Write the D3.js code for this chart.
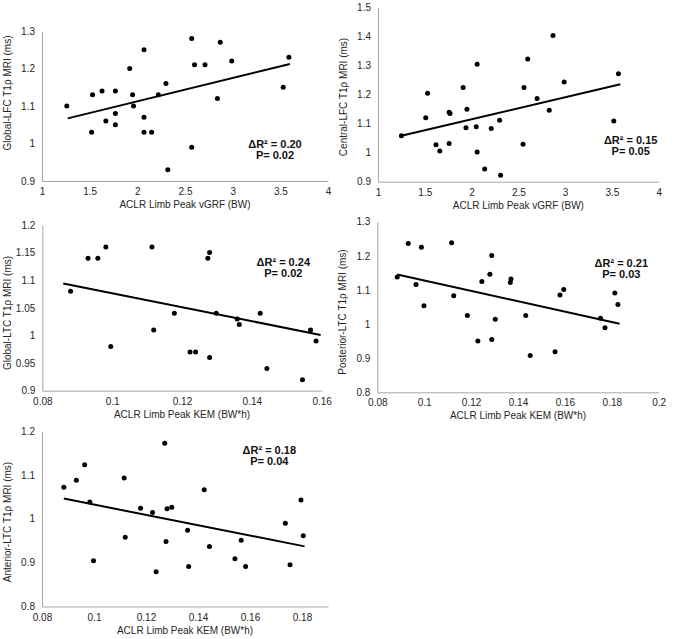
<!DOCTYPE html>
<html>
<head>
<meta charset="utf-8">
<script src="https://cdn.jsdelivr.net/npm/d3@7"></script>
<style>
  html, body { margin: 0; padding: 0; background: #fff; }
  svg { display: block; font-family: "Liberation Sans", Arial, sans-serif; }
</style>
</head>
<body>
<svg id="chart" width="675" height="639"></svg>
<script>
// ---------------- DATA ----------------
// Panel 1: Global-LFC vs vGRF
const p1X = [1.26,1.52,1.53,1.63,1.67,1.77,1.77,1.77,1.92,1.95,1.96,2.07,2.07,2.07,2.15,2.22,2.30,2.32,2.57,2.57,2.60,2.71,2.84,2.87,2.99,3.53,3.59];
const p1Y = [1.10,1.03,1.13,1.14,1.06,1.14,1.08,1.05,1.20,1.13,1.10,1.25,1.07,1.03,1.03,1.13,1.16,0.93,1.28,0.99,1.21,1.21,1.12,1.27,1.22,1.15,1.23];
const p1Fit = [[1.27,1.067],[3.60,1.212]];

// Panel 2: Central-LFC vs vGRF
const p2X = [1.25,1.51,1.53,1.62,1.66,1.76,1.77,1.76,1.91,1.94,1.95,2.05,2.06,2.06,2.14,2.21,2.30,2.31,2.55,2.56,2.60,2.70,2.83,2.87,2.99,3.52,3.57];
const p2Y = [1.058,1.120,1.204,1.027,1.006,1.139,1.135,1.031,1.224,1.086,1.149,1.089,1.304,1.002,0.944,1.083,1.111,0.922,1.029,1.224,1.322,1.186,1.146,1.403,1.243,1.109,1.271];
const p2Fit = [[1.25,1.058],[3.59,1.235]];

// Panel 3: Global-LTC vs KEM
const p3X = [0.0881,0.0931,0.0959,0.0982,0.0996,0.1114,0.1119,0.1178,0.1223,0.1239,0.1274,0.1279,0.1279,0.1298,0.1358,0.1364,0.1424,0.1443,0.1545,0.1568,0.1584];
const p3Y = [1.08,1.14,1.14,1.16,0.98,1.16,1.01,1.04,0.97,0.97,1.14,1.15,0.96,1.04,1.03,1.02,1.04,0.94,0.92,1.01,0.99];
const p3Fit = [[0.0860,1.094],[0.1597,1.001]];

// Panel 4: Posterior-LTC vs KEM
const p4X = [0.0885,0.0932,0.0965,0.0988,0.0999,0.1117,0.1126,0.1184,0.1229,0.1246,0.1280,0.1288,0.1288,0.1303,0.1367,0.1370,0.1433,0.1452,0.1558,0.1579,0.1595,0.1752,0.1771,0.1813,0.1826];
const p4Y = [1.138,1.236,1.116,1.225,1.054,1.238,1.083,1.025,0.950,1.125,1.146,1.201,0.955,1.014,1.122,1.132,1.025,0.908,0.919,1.085,1.101,1.017,0.989,1.091,1.057];
const p4Fit = [[0.0885,1.145],[0.1833,1.001]];

// Panel 5: Anterior-LTC vs KEM
const p5X = [0.0884,0.0932,0.0964,0.0984,0.0998,0.1116,0.1120,0.1179,0.1225,0.1239,0.1272,0.1281,0.1277,0.1299,0.1360,0.1364,0.1424,0.1444,0.1542,0.1566,0.1583,0.1736,0.1754,0.1796,0.1805];
const p5Y = [1.072,1.088,1.123,1.038,0.904,1.093,0.958,1.024,1.014,0.879,1.172,1.023,0.948,1.026,0.974,0.891,1.066,0.937,0.909,0.951,0.891,0.990,0.895,1.043,0.961];
const p5Fit = [[0.0884,1.046],[0.1810,0.937]];

// Tick labels
const vgrfTicks = [1,1.5,2,2.5,3,3.5,4];
const kemTicks160 = [0.08,0.1,0.12,0.14,0.16];
const kemTicks180 = [0.08,0.1,0.12,0.14,0.16,0.18];
const kemTicks200 = [0.08,0.1,0.12,0.14,0.16,0.18,0.2];
const yTicks1 = [0.9,1,1.1,1.2,1.3];
const yTicks2 = [0.9,1,1.1,1.2,1.3,1.4,1.5];
const yTicks3 = [0.9,0.95,1,1.05,1.1,1.15,1.2];
const yTicks4 = [0.8,0.9,1,1.1,1.2,1.3];
const yTicks5 = [0.8,0.9,1,1.1,1.2];

// Titles and annotations
const xTitles = ["ACLR Limb Peak vGRF (BW)","ACLR Limb Peak vGRF (BW)","ACLR Limb Peak KEM (BW*h)","ACLR Limb Peak KEM (BW*h)","ACLR Limb Peak KEM (BW*h)"];
const yTitles = ["Global-LFC T1ρ MRI (ms)","Central-LFC T1ρ MRI (ms)","Global-LTC T1ρ MRI (ms)","Posterior-LTC T1ρ MRI (ms)","Anterior-LTC T1ρ MRI (ms)"];
const dR2 = ["0.20","0.15","0.24","0.21","0.18"];
const pVals = ["0.02","0.05","0.02","0.03","0.04"];

// ---------------- LAYOUT ----------------
const layout = [
  {x0:42,  x1:328,   y0:181,   y1:31,    xd:[1,4],      yd:[0.9,1.3], ylab:93,  ann:[275,148]},
  {x0:378, x1:658.7, y0:181.7, y1:7.3,   xd:[1,4],      yd:[0.9,1.5], ylab:97,  ann:[630.7,143.5]},
  {x0:42.3,x1:321.7, y0:390.7, y1:225,   xd:[0.08,0.16],yd:[0.9,1.2], ylab:313, ann:[283.3,265.5]},
  {x0:377.3,x1:658.7,y0:392.3, y1:221.7, xd:[0.08,0.2], yd:[0.8,1.3], ylab:312, ann:[621.3,267.3]},
  {x0:42,  x1:328,   y0:606.5, y1:431,   xd:[0.08,0.19],yd:[0.8,1.2], ylab:522, ann:[269.3,454]}
];

const panels = [
  {xs:p1X, ys:p1Y, fit:p1Fit, xt:vgrfTicks,   yt:yTicks1},
  {xs:p2X, ys:p2Y, fit:p2Fit, xt:vgrfTicks,   yt:yTicks2},
  {xs:p3X, ys:p3Y, fit:p3Fit, xt:kemTicks160, yt:yTicks3},
  {xs:p4X, ys:p4Y, fit:p4Fit, xt:kemTicks200, yt:yTicks4},
  {xs:p5X, ys:p5Y, fit:p5Fit, xt:kemTicks180, yt:yTicks5}
];

const svg = d3.select("#chart");
svg.append("rect").attr("width",675).attr("height",639).attr("fill","#fff");

const fmt = d3.format("~g");
const axisColor = "#a8a8a8";
const textColor = "#262626";

panels.forEach((p, i) => {
  const L = layout[i];
  const x = d3.scaleLinear().domain(L.xd).range([L.x0, L.x1]);
  const y = d3.scaleLinear().domain(L.yd).range([L.y0, L.y1]);
  const g = svg.append("g");

  const xa = g.append("g").attr("transform", `translate(0,${L.y0})`)
    .call(d3.axisBottom(x).tickValues(p.xt).tickFormat(fmt).tickSize(0).tickPadding(7));
  const ya = g.append("g").attr("transform", `translate(${L.x0},0)`)
    .call(d3.axisLeft(y).tickValues(p.yt).tickFormat(fmt).tickSize(0).tickPadding(7));
  [xa, ya].forEach(a => {
    a.select(".domain").attr("stroke", axisColor).attr("stroke-width", 1);
    a.selectAll("text").attr("fill", textColor).attr("font-size", 10)
      .attr("font-family", '"Liberation Sans", Arial, sans-serif');
  });

  // axis titles
  g.append("text").attr("x", (L.x0 + L.x1) / 2).attr("y", L.y0 + 27)
    .attr("text-anchor", "middle").attr("font-size", 10).attr("fill", textColor)
    .text(xTitles[i]);
  const yx = L.x0 - 35;
  g.append("text").attr("transform", `translate(${yx},${L.ylab}) rotate(-90)`)
    .attr("text-anchor", "middle").attr("dominant-baseline", "central")
    .attr("font-size", 10).attr("fill", textColor).text(yTitles[i]);

  // trend line
  g.append("line")
    .attr("x1", x(p.fit[0][0])).attr("y1", y(p.fit[0][1]))
    .attr("x2", x(p.fit[1][0])).attr("y2", y(p.fit[1][1]))
    .attr("stroke", "#000").attr("stroke-width", 2);

  // points
  g.selectAll("circle").data(p.xs.map((v, k) => [v, p.ys[k]])).join("circle")
    .attr("cx", d => x(d[0])).attr("cy", d => y(d[1])).attr("r", 2.5).attr("fill", "#000");

  // annotation
  const ann = g.append("text").attr("text-anchor", "middle").attr("font-size", 11)
    .attr("font-weight", "bold").attr("fill", "#111");
  ann.append("tspan").attr("x", L.ann[0]).attr("y", L.ann[1]).text(`ΔR² = ${dR2[i]}`);
  ann.append("tspan").attr("x", L.ann[0]).attr("y", L.ann[1] + 11).text(`P= ${pVals[i]}`);
});
</script>
</body>
</html>
